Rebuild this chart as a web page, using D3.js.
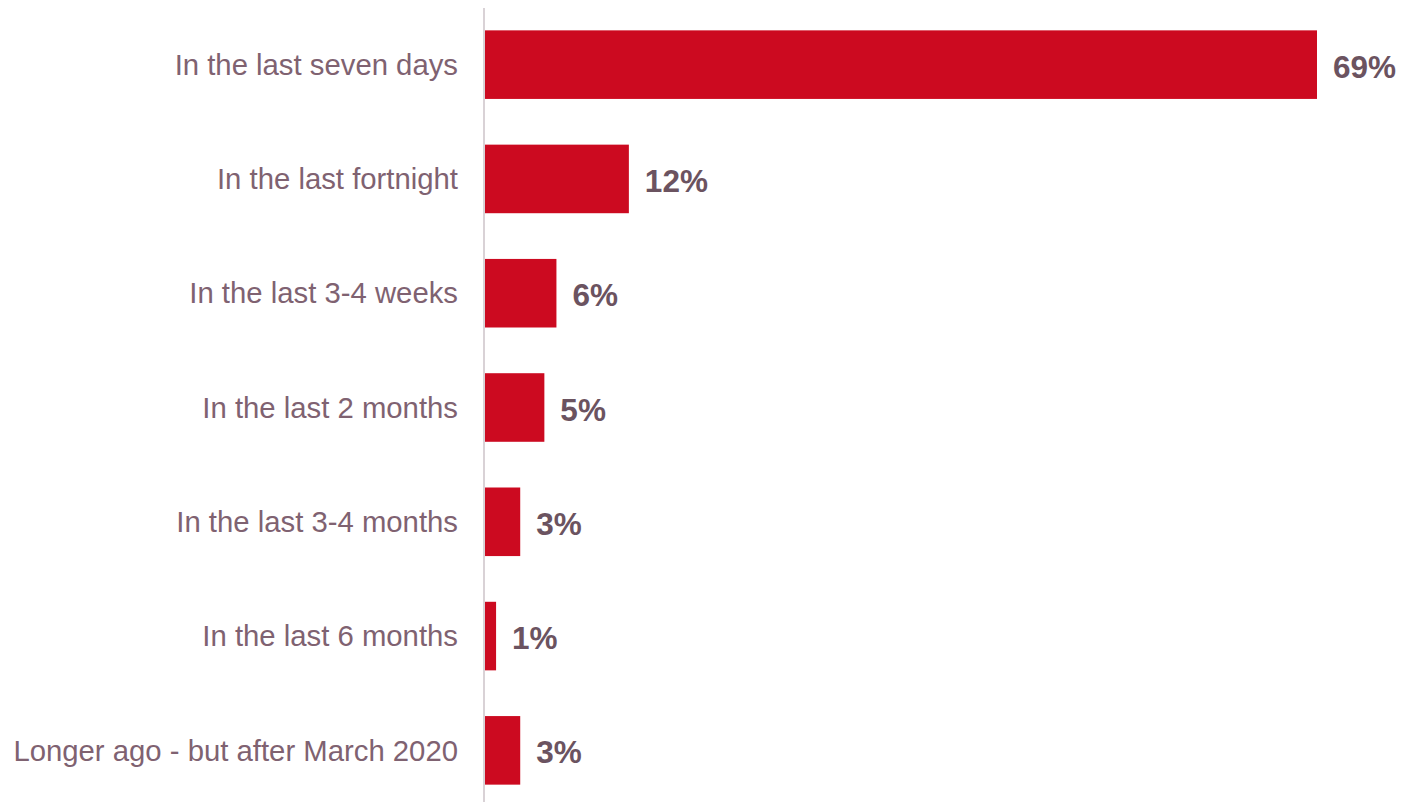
<!DOCTYPE html>
<html>
<head>
<meta charset="utf-8">
<script src="https://cdn.jsdelivr.net/npm/d3@7"></script>
<style>
  body { margin: 0; background: #fff; }
  svg { font-family: "Liberation Sans", Arial, sans-serif; }
</style>
</head>
<body>
<svg width="1409" height="802"></svg>
<script>
// data
var categories = [
  "In the last seven days",
  "In the last fortnight",
  "In the last 3-4 weeks",
  "In the last 2 months",
  "In the last 3-4 months",
  "In the last 6 months",
  "Longer ago - but after March 2020"
];
var values = [69, 12, 6, 5, 3, 1, 3];

var svg = d3.select("svg"),
  width = +svg.attr("width"),
  height = +svg.attr("height");

var left = 484;

// scales
var x = d3.scaleLinear()
  .domain([0, 69])
  .range([left, 1317]);

var y = d3.scaleBand()
  .domain(categories)
  .range([7.5, 807.5])
  .paddingInner(0.4)
  .paddingOuter(0.2);

var rows = categories.map(function(c, i) { return { cat: c, val: values[i] }; });

// bars
svg.append("g")
  .selectAll("rect")
  .data(rows)
  .enter()
  .append("rect")
    .attr("x", x(0) + 1)
    .attr("y", function(d) { return y(d.cat); })
    .attr("width", function(d) { return x(d.val) - x(0) - 1; })
    .attr("height", y.bandwidth())
    .style("fill", "#cc0a20");

// axis line on the left
svg.append("line")
  .attr("x1", left).attr("x2", left)
  .attr("y1", 8).attr("y2", height)
  .style("stroke", "#d9d2d6")
  .style("stroke-width", 2);

// category labels
svg.append("g")
  .selectAll("text")
  .data(rows)
  .enter()
  .append("text")
    .attr("x", 458)
    .attr("y", function(d) { return y(d.cat) + y.bandwidth() / 2; })
    .attr("dy", "0.35em")
    .attr("text-anchor", "end")
    .style("font-size", "29.3px")
    .style("fill", "#7f6271")
    .text(function(d) { return d.cat; });

// value labels
svg.append("g")
  .selectAll("text")
  .data(rows)
  .enter()
  .append("text")
    .attr("x", function(d) { return x(d.val) + 16; })
    .attr("y", function(d) { return y(d.cat) + y.bandwidth() / 2 + 2; })
    .attr("dy", "0.35em")
    .style("font-size", "31.5px")
    .style("font-weight", "bold")
    .style("fill", "#6b5360")
    .text(function(d) { return d.val + "%"; });
</script>
</body>
</html>
